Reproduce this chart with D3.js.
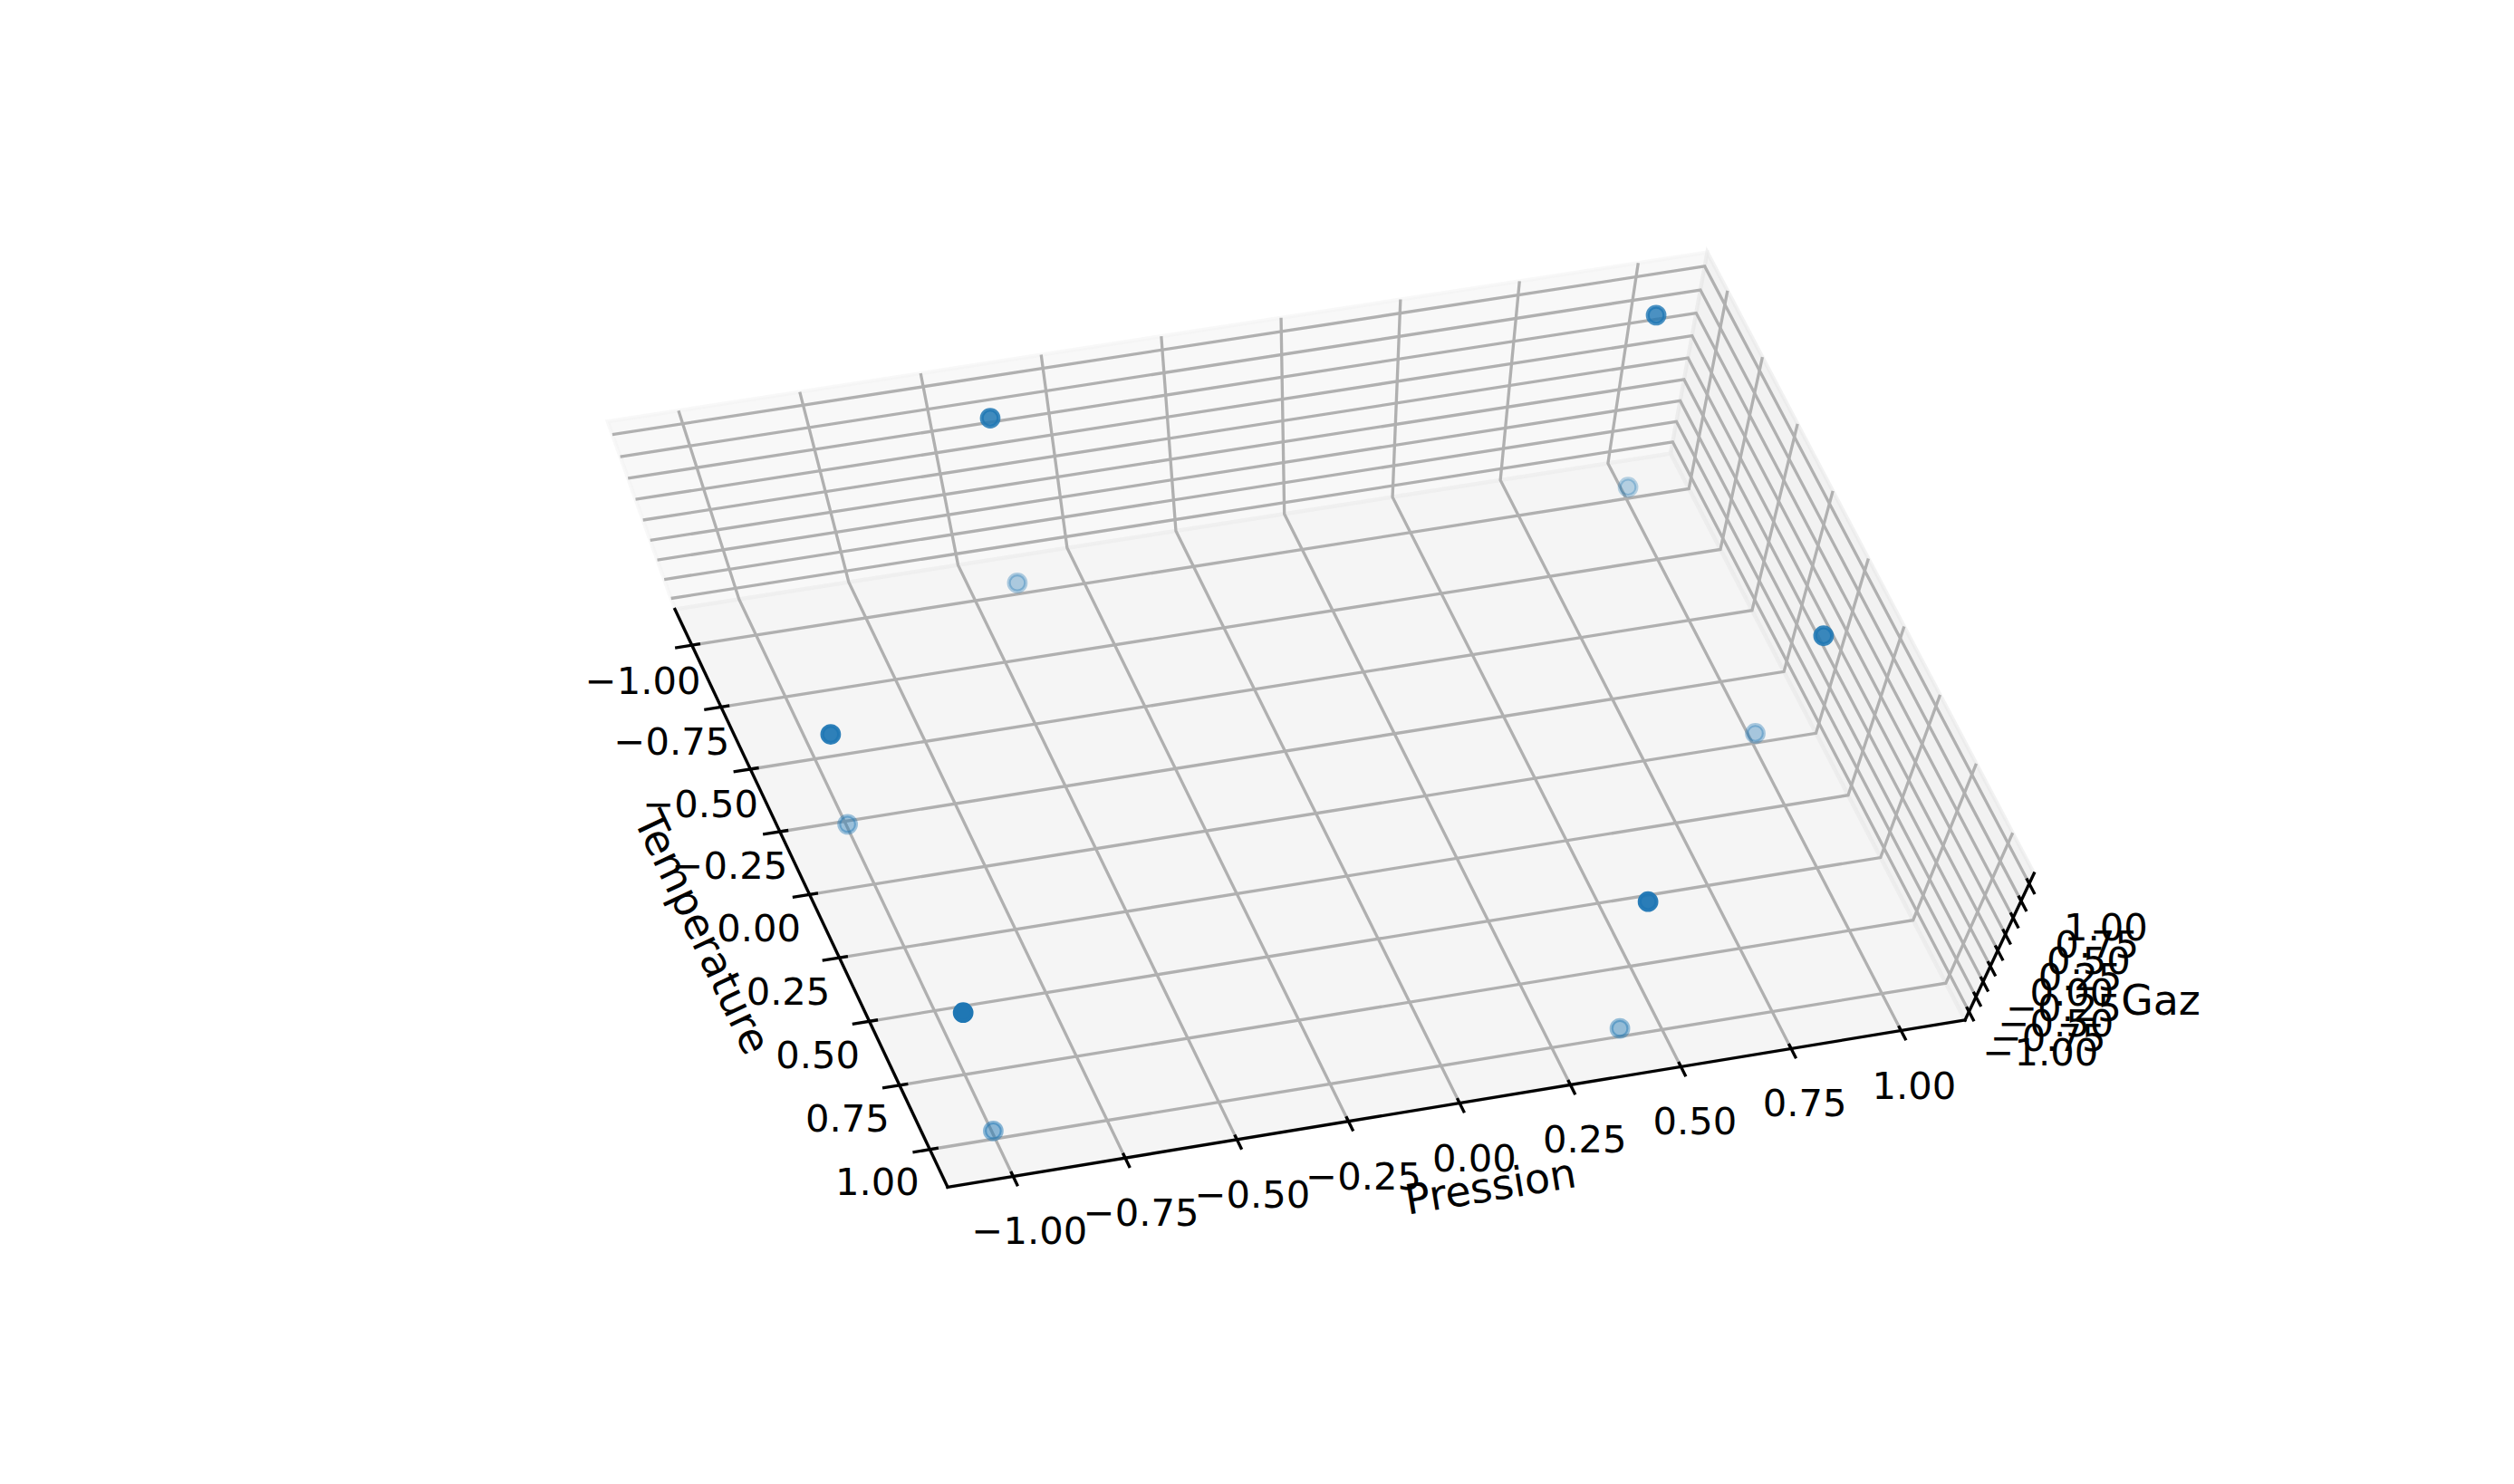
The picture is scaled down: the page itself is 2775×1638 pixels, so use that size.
<!DOCTYPE html>
<html>
<head>
<meta charset="utf-8">
<script src="https://cdn.jsdelivr.net/npm/d3@7/dist/d3.min.js"></script>
<style>
html,body{margin:0;padding:0;background:#fff}
svg{display:block}
text{font-family:"DejaVu Sans";font-size:41.67px;fill:#000}
text.title{font-size:45.83px}
</style>
</head>
<body>
<svg id="chart" width="2775" height="1638"></svg>
<script>
// ---- data ----
const pression    = [-0.4, 1, 1, 0.4, -1, -1,   -0.4, 1, 1,   0.4, -1, -1];
const temperature = [-1, -1, 0, 1, 1, -0.2,     -1, -1, 0.2, 1, 1, 0];
const gaz         = [-1, -1, -1, -1, -1, -1,    1, 1, 1, 1, 1, 1];
const tickValues  = [-1, -0.75, -0.5, -0.25, 0, 0.25, 0.5, 0.75, 1];
const tickLabels  = ["−1.00","−0.75","−0.50","−0.25","0.00","0.25","0.50","0.75","1.00"];
const axisTitles  = ["Pression","Temperature","Gaz"];

// ---- 3D view ----
const lim = 1.1458;
const sx = d3.scaleLinear().domain([-lim, lim]).range([0, 1]);
const sy = d3.scaleLinear().domain([-lim, lim]).range([0, 1]);
const sz = d3.scaleLinear().domain([-lim, lim]).range([0, 1]);
const M = [
  [1122.36, 274.81, -138, 745],
  [-165.5, 605, -251.5, 672.5],
  [0.012669, -0.025038, -0.095, 1]
];
function homog(x, y, z) {
  const v = [sx(x), sy(y), sz(z), 1];
  return M.map(r => d3.sum(r, (c, i) => c * v[i]));
}
function proj(x, y, z) {
  const h = homog(x, y, z);
  return [h[0] / h[2], h[1] / h[2]];
}
const line = d3.line().x(p => proj(...p)[0]).y(p => proj(...p)[1]);

const svg = d3.select("#chart");

// panes
const panes = [
  {c: 0.95, pts: [[-lim,-lim,-lim],[lim,-lim,-lim],[lim,-lim,lim],[-lim,-lim,lim]]},
  {c: 0.90, pts: [[lim,-lim,-lim],[lim,lim,-lim],[lim,lim,lim],[lim,-lim,lim]]},
  {c: 0.925, pts: [[-lim,-lim,-lim],[lim,-lim,-lim],[lim,lim,-lim],[-lim,lim,-lim]]}
];
svg.append("g").selectAll("path").data(panes).join("path")
  .attr("d", d => line(d.pts) + "Z")
  .attr("fill", d => d3.rgb(d.c*255, d.c*255, d.c*255))
  .attr("stroke", d => d3.rgb(d.c*255, d.c*255, d.c*255))
  .attr("fill-opacity", 0.5).attr("stroke-opacity", 0.5)
  .attr("stroke-width", 4.17).attr("stroke-linejoin", "miter");

// grid
const grid = [];
tickValues.forEach(t => {
  grid.push([[t,lim,-lim],[t,-lim,-lim],[t,-lim,lim]]);
  grid.push([[-lim,t,-lim],[lim,t,-lim],[lim,t,lim]]);
  grid.push([[-lim,-lim,t],[lim,-lim,t],[lim,lim,t]]);
});
svg.append("g").selectAll("path").data(grid).join("path")
  .attr("d", line).attr("fill", "none")
  .attr("stroke", "#b0b0b0").attr("stroke-width", 3.33)
  .attr("stroke-linejoin", "miter");

// axis lines, ticks and tick labels (label offset in screen pixels at t=-1 and t=+1)
const tIn = 0.0191, tOut = 0.0382;
const axes = [
  {line: [[-lim,lim,-lim],[lim,lim,-lim]],
   tick: t => [[t,lim-tIn,-lim],[t,lim+tOut,-lim]],
   at: t => [t,lim,-lim], ox: [18,14.5], oy: [60,60]},
  {line: [[-lim,-lim,-lim],[-lim,lim,-lim]],
   tick: t => [[-lim+tIn,t,-lim],[-lim-tOut,t,-lim]],
   at: t => [-lim,t,-lim], ox: [-54,-58], oy: [38.5,35.5]},
  {line: [[lim,lim,-lim],[lim,lim,lim]],
   tick: t => [[lim,lim-tIn,t],[lim,lim+tOut,t]],
   at: t => [lim,lim,t], ox: [79,84.5], oy: [44.5,47.5]}
];
const axG = svg.append("g");
axG.selectAll("path.axis").data(axes).join("path").attr("class","axis")
  .attr("d", d => line(d.line)).attr("fill","none")
  .attr("stroke","#000").attr("stroke-width",3.33).attr("stroke-linecap","square");
axes.forEach(a => {
  const ox = d3.scaleLinear().domain([-1,1]).range(a.ox);
  const oy = d3.scaleLinear().domain([-1,1]).range(a.oy);
  axG.append("g").selectAll("path").data(tickValues).join("path")
    .attr("d", t => line(a.tick(t))).attr("fill","none")
    .attr("stroke","#000").attr("stroke-width",3.33);
  axG.append("g").selectAll("text").data(tickValues).join("text")
    .attr("x", t => proj(...a.at(t))[0] + ox(t))
    .attr("y", t => proj(...a.at(t))[1] + oy(t))
    .attr("dy", "0.36em").attr("text-anchor","middle")
    .text((t,i) => tickLabels[i]);
});

// axis titles
const titleG = svg.append("g");
const titlePos = [[1645,1309,-9.3],[776,1029,64.7],[2385,1103.5,0]];
titleG.selectAll("text").data(axisTitles).join("text").attr("class","title")
  .attr("text-anchor","middle").attr("dy","0.36em")
  .attr("transform",(d,i)=>`translate(${titlePos[i][0]},${titlePos[i][1]}) rotate(${titlePos[i][2]})`)
  .text(d=>d);

// points with depth shading
const pts = pression.map((p,i)=>({p, t: temperature[i], g: gaz[i], depth: homog(p, temperature[i], gaz[i])[2]}));
const shade = d3.scaleLinear().domain(d3.extent(pts, d=>d.depth)).range([1, 0.3]);
svg.append("g").selectAll("circle")
  .data(pts.sort((a,b)=>b.depth-a.depth)).join("circle")
  .attr("cx", d=>proj(d.p,d.t,d.g)[0])
  .attr("cy", d=>proj(d.p,d.t,d.g)[1])
  .attr("r", 9.3)
  .attr("fill","#1f77b4").attr("stroke","#1f77b4").attr("stroke-width",4.17)
  .attr("fill-opacity", d=>shade(d.depth)).attr("stroke-opacity", d=>shade(d.depth));
</script>
</body>
</html>
